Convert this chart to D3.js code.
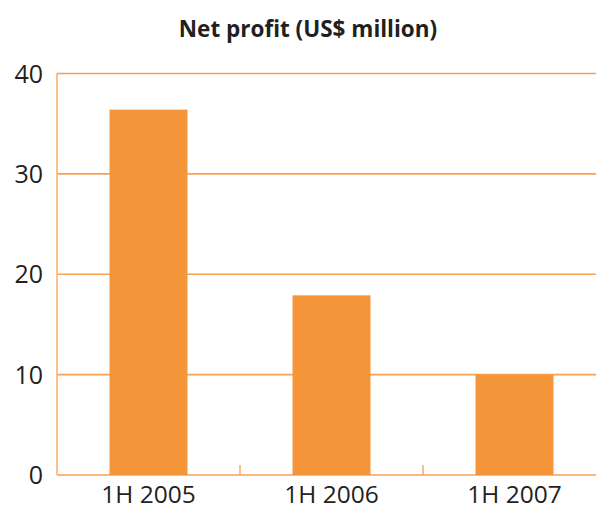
<!DOCTYPE html>
<html>
<head>
<meta charset="utf-8">
<script src="https://cdn.jsdelivr.net/npm/d3@7"></script>
<style>
  body { margin: 0; background: #fff; }
  svg { display: block; }
</style>
</head>
<body>
<svg id="chart" width="596" height="510"></svg>
<script>
// data
var periods = ["1H 2005", "1H 2006", "1H 2007"];
var netProfit = [36.4, 17.9, 10.0];
var yTicks = [0, 10, 20, 30, 40];

var svg = d3.select("#chart"),
    plotLeft = 57, plotRight = 606, plotTop = 73.5, plotBottom = 475;

var x = d3.scaleBand()
    .domain(periods)
    .range([plotLeft, plotRight])
    .padding(0);

var y = d3.scaleLinear()
    .domain([0, 40])
    .range([plotBottom, plotTop]);

var barW = x.bandwidth() * 0.426;

// title
svg.append("text")
    .attr("x", 308)
    .attr("y", 37)
    .attr("text-anchor", "middle")
    .style("font-family", "'Open Sans', sans-serif")
    .style("font-weight", "bold")
    .style("font-size", "22.5px")
    .attr("fill", "#231f20")
    .text("Net profit (US$ million)");

// gridlines
svg.append("g")
    .selectAll("line")
    .data(yTicks)
    .enter().append("line")
    .attr("x1", plotLeft)
    .attr("x2", plotRight)
    .attr("y1", function (d) { return y(d); })
    .attr("y2", function (d) { return y(d); })
    .attr("stroke", "#f7a153")
    .attr("stroke-width", 1.6);

// left axis line
svg.append("line")
    .attr("x1", plotLeft).attr("x2", plotLeft)
    .attr("y1", plotTop).attr("y2", plotBottom)
    .attr("stroke", "#fab375")
    .attr("stroke-width", 1.6);

// bars
svg.append("g")
    .selectAll("rect")
    .data(netProfit)
    .enter().append("rect")
    .attr("x", function (d, i) { return x(periods[i]) + (x.bandwidth() - barW) / 2; })
    .attr("y", function (d) { return y(d); })
    .attr("width", barW)
    .attr("height", function (d) { return y(0) - y(d); })
    .attr("fill", "#f5953a");

// category separators on the baseline
svg.append("g")
    .selectAll("line")
    .data(periods.slice(1))
    .enter().append("line")
    .attr("x1", function (d) { return x(d); })
    .attr("x2", function (d) { return x(d); })
    .attr("y1", plotBottom - 10)
    .attr("y2", plotBottom)
    .attr("stroke", "#f7a153")
    .attr("stroke-width", 1.4);

// y labels
svg.append("g")
    .selectAll("text")
    .data(yTicks)
    .enter().append("text")
    .attr("x", 43)
    .attr("y", function (d) { return y(d); })
    .attr("dy", "0.36em")
    .attr("text-anchor", "end")
    .style("font-family", "'Open Sans', sans-serif")
    .style("font-size", "25px")
    .attr("fill", "#231f20")
    .text(function (d) { return d; });

// x labels
svg.append("g")
    .selectAll("text")
    .data(periods)
    .enter().append("text")
    .attr("x", function (d) { return x(d) + x.bandwidth() / 2; })
    .attr("y", 503)
    .attr("text-anchor", "middle")
    .style("font-family", "'Open Sans', sans-serif")
    .style("font-size", "24.5px")
    .attr("fill", "#231f20")
    .text(function (d) { return d; });
</script>
</body>
</html>
